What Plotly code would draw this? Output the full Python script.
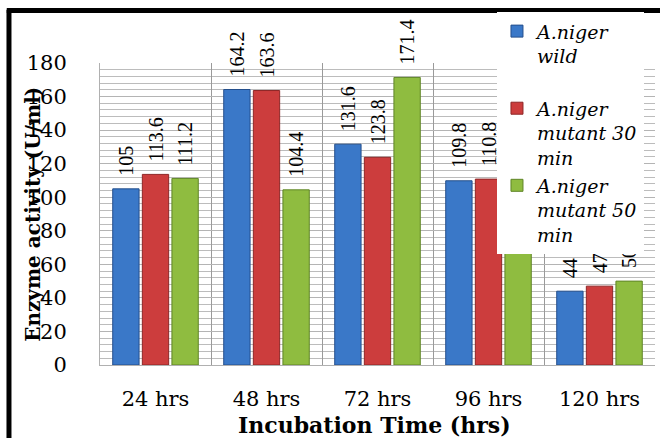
import plotly.graph_objects as go

categories = ["24 hrs", "48 hrs", "72 hrs", "96 hrs", "120 hrs"]
series_names = ["A.niger<br>wild<br> ", "A.niger<br>mutant 30<br>min", "A.niger<br>mutant 50<br>min"]
wild = [105, 164.2, 131.6, 109.8, 44]
mutant30 = [113.6, 163.6, 123.8, 110.8, 47]
mutant50 = [111.2, 104.4, 171.4, 112.4, 50]
y_ticks = [0, 20, 40, 60, 80, 100, 120, 140, 160, 180]

colors = ["#3a78c8", "#cc3d3d", "#8fbc40"]
edge_colors = ["#244f8c", "#8e2626", "#5f8526"]

NB = "\u00a0\u00a0"
SERIF_WIDE = "DejaVu Serif"

fig = go.Figure()
for name, vals, c, ec in zip(series_names, [wild, mutant30, mutant50], colors, edge_colors):
    fig.add_trace(go.Bar(
        x=categories, y=vals, name=name,
        marker=dict(color=c, line=dict(color=ec, width=1)),
        text=[NB + (f"{v:g}") for v in vals],
        textposition="outside", textangle=-90, constraintext="none",
        textfont=dict(family="Liberation Serif", size=20, color="black"),
        cliponaxis=False,
    ))

fig.update_layout(
    width=660, height=438,
    margin=dict(l=100, r=5, t=63, b=73, autoexpand=False),
    paper_bgcolor="white", plot_bgcolor="white",
    barmode="group", bargap=0.2, bargroupgap=0.11,
    font=dict(family="Liberation Serif", color="black"),
    showlegend=True,
    legend=dict(
        xref="container", yref="container",
        x=0.753, y=0.972, xanchor="left", yanchor="top",
        bgcolor="white", borderwidth=0, maxheight=300,
        font=dict(family=SERIF_WIDE, size=19, color="black", style="italic"),
        valign="top", tracegroupgap=0,
    ),
)
fig.update_xaxes(
    type="category", tickson="boundaries", showgrid=True, gridcolor="#9a9a9a", gridwidth=1,
    showline=True, linecolor="#b0b0b0", mirror=False, automargin=False,
    ticks="", ticklabelstandoff=15,
    tickfont=dict(family=SERIF_WIDE, size=21, color="black"),
)
fig.update_yaxes(
    range=[0, 180], tickvals=y_ticks, showgrid=True, gridcolor="#b4b4b4", gridwidth=1,
    minor=dict(dtick=4, showgrid=True, gridcolor="#bcbcbc", gridwidth=1),
    showline=True, linecolor="#b0b0b0", zeroline=False, automargin=False,
    ticks="", ticklabelstandoff=28,
    tickfont=dict(family=SERIF_WIDE, size=21, color="black"),
)

fig.add_annotation(
    text="<b>Enzyme activity (U/ml)</b>", xref="paper", yref="paper",
    x=-0.121, y=0.5, xanchor="center", yanchor="middle", textangle=-90, showarrow=False,
    font=dict(family=SERIF_WIDE, size=20, color="black"),
)
fig.add_annotation(
    text="<b>Incubation Time (hrs)</b>", xref="paper", yref="paper",
    x=0.495, y=-0.199, xanchor="center", yanchor="middle", showarrow=False,
    font=dict(family=SERIF_WIDE, size=22, color="black"),
)

# black frame
fig.add_shape(type="line", xref="paper", yref="paper", x0=-0.164, x1=-0.164, y0=1.176, y1=-0.25,
              line=dict(color="black", width=5))
fig.add_shape(type="line", xref="paper", yref="paper", x0=-0.168, x1=1.01, y0=1.174, y1=1.174,
              line=dict(color="black", width=5))

fig.write_html("out.html", config={"displayModeBar": False},
               post_script="document.body.style.margin='0px';")
